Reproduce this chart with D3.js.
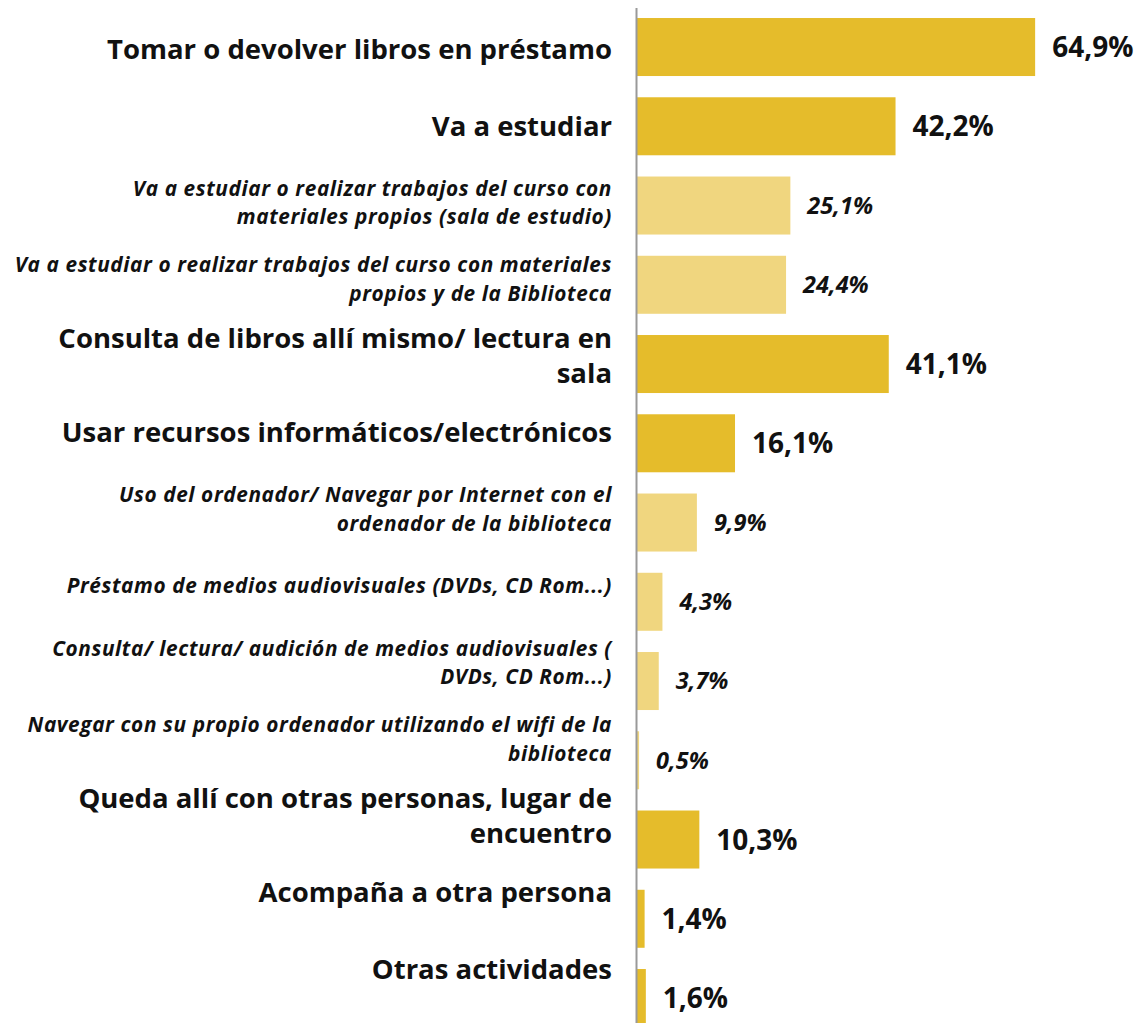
<!DOCTYPE html>
<html><head><meta charset="utf-8">
<script src="https://cdn.jsdelivr.net/npm/d3@7"></script>
<style>body{margin:0;background:#fff}svg{display:block}</style>
</head><body><svg id="chart" width="1138" height="1023"></svg>
<script>
const categories = [
  "Tomar o devolver libros en préstamo",
  "Va a estudiar",
  "Va a estudiar o realizar trabajos del curso con\nmateriales propios (sala de estudio)",
  "Va a estudiar o realizar trabajos del curso con materiales\npropios y de la Biblioteca",
  "Consulta de libros allí mismo/ lectura en\nsala",
  "Usar recursos informáticos/electrónicos",
  "Uso del ordenador/ Navegar por Internet con el\nordenador de la biblioteca",
  "Préstamo de medios audiovisuales (DVDs, CD Rom...)",
  "Consulta/ lectura/ audición de medios audiovisuales (\nDVDs, CD Rom...)",
  "Navegar con su propio ordenador utilizando el wifi de la\nbiblioteca",
  "Queda allí con otras personas, lugar de\nencuentro",
  "Acompaña a otra persona",
  "Otras actividades"
];
const values = [64.9, 42.2, 25.1, 24.4, 41.1, 16.1, 9.9, 4.3, 3.7, 0.5, 10.3, 1.4, 1.6];
const valueLabels = ["64,9%", "42,2%", "25,1%", "24,4%", "41,1%", "16,1%", "9,9%", "4,3%", "3,7%", "0,5%", "10,3%", "1,4%", "1,6%"];
const levels = ["main", "main", "sub", "sub", "main", "main", "sub", "sub", "sub", "sub", "main", "main", "main"];

const W = 1138, H = 1023;
const axisX = 636;
const svg = d3.select("#chart");
const FONT = "'Open Sans', Lato, sans-serif";

const style = {
  main: {fill: "#E5BC2B", labelSize: 27.5, labelStyle: "normal", lh: 35, ls: 0, valSize: 28},
  sub:  {fill: "#F0D67F", labelSize: 20.8, labelStyle: "italic", lh: 28.5, ls: 0.6, valSize: 23.5}
};

const idx = d3.range(categories.length);
const y = d3.scaleBand().domain(idx).range([7.4, 7.4 + 79.25 * 13]).paddingInner(0.268).paddingOuter(0.134);
const yLabel = d3.scalePoint().domain(idx).range([49, 969]);
const x = d3.scaleLinear().domain([0, 65]).range([axisX, axisX + 65 * 6.15]);

// bars
svg.append("g").selectAll("rect").data(idx).join("rect")
  .attr("x", x(0))
  .attr("y", i => y(i))
  .attr("width", i => x(values[i]) - x(0))
  .attr("height", y.bandwidth())
  .attr("fill", i => style[levels[i]].fill);

// axis line
const ax = svg.append("g").attr("transform", `translate(${axisX},0)`)
  .call(d3.axisLeft(y).tickSize(0).tickFormat(""));
ax.select(".domain").attr("stroke", "#999").attr("stroke-width", 2);

// category labels
const lg = svg.append("g").attr("font-family", FONT).attr("font-weight", 700).attr("fill", "#111");
idx.forEach(i => {
  const s = style[levels[i]];
  const lines = categories[i].split("\n");
  const cy = yLabel(i);
  const t = lg.append("text")
    .attr("text-anchor", "end")
    .attr("font-size", s.labelSize)
    .attr("letter-spacing", s.ls)
    .attr("font-style", s.labelStyle);
  lines.forEach((ln, k) => {
    t.append("tspan")
      .attr("x", 612)
      .attr("y", cy + (k - (lines.length - 1) / 2) * s.lh)
      .attr("dy", "0.36em")
      .text(ln);
  });
});

// value labels
svg.append("g").selectAll("text").data(idx).join("text")
  .attr("font-family", FONT)
  .attr("font-weight", 700)
  .attr("font-style", i => style[levels[i]].labelStyle)
  .attr("font-size", i => style[levels[i]].valSize)
  .attr("fill", "#111")
  .attr("x", i => x(values[i]) + 17)
  .attr("y", i => y(i) + y.bandwidth() / 2)
  .attr("dy", "0.36em")
  .text(i => valueLabels[i]);
</script>
</body></html>
